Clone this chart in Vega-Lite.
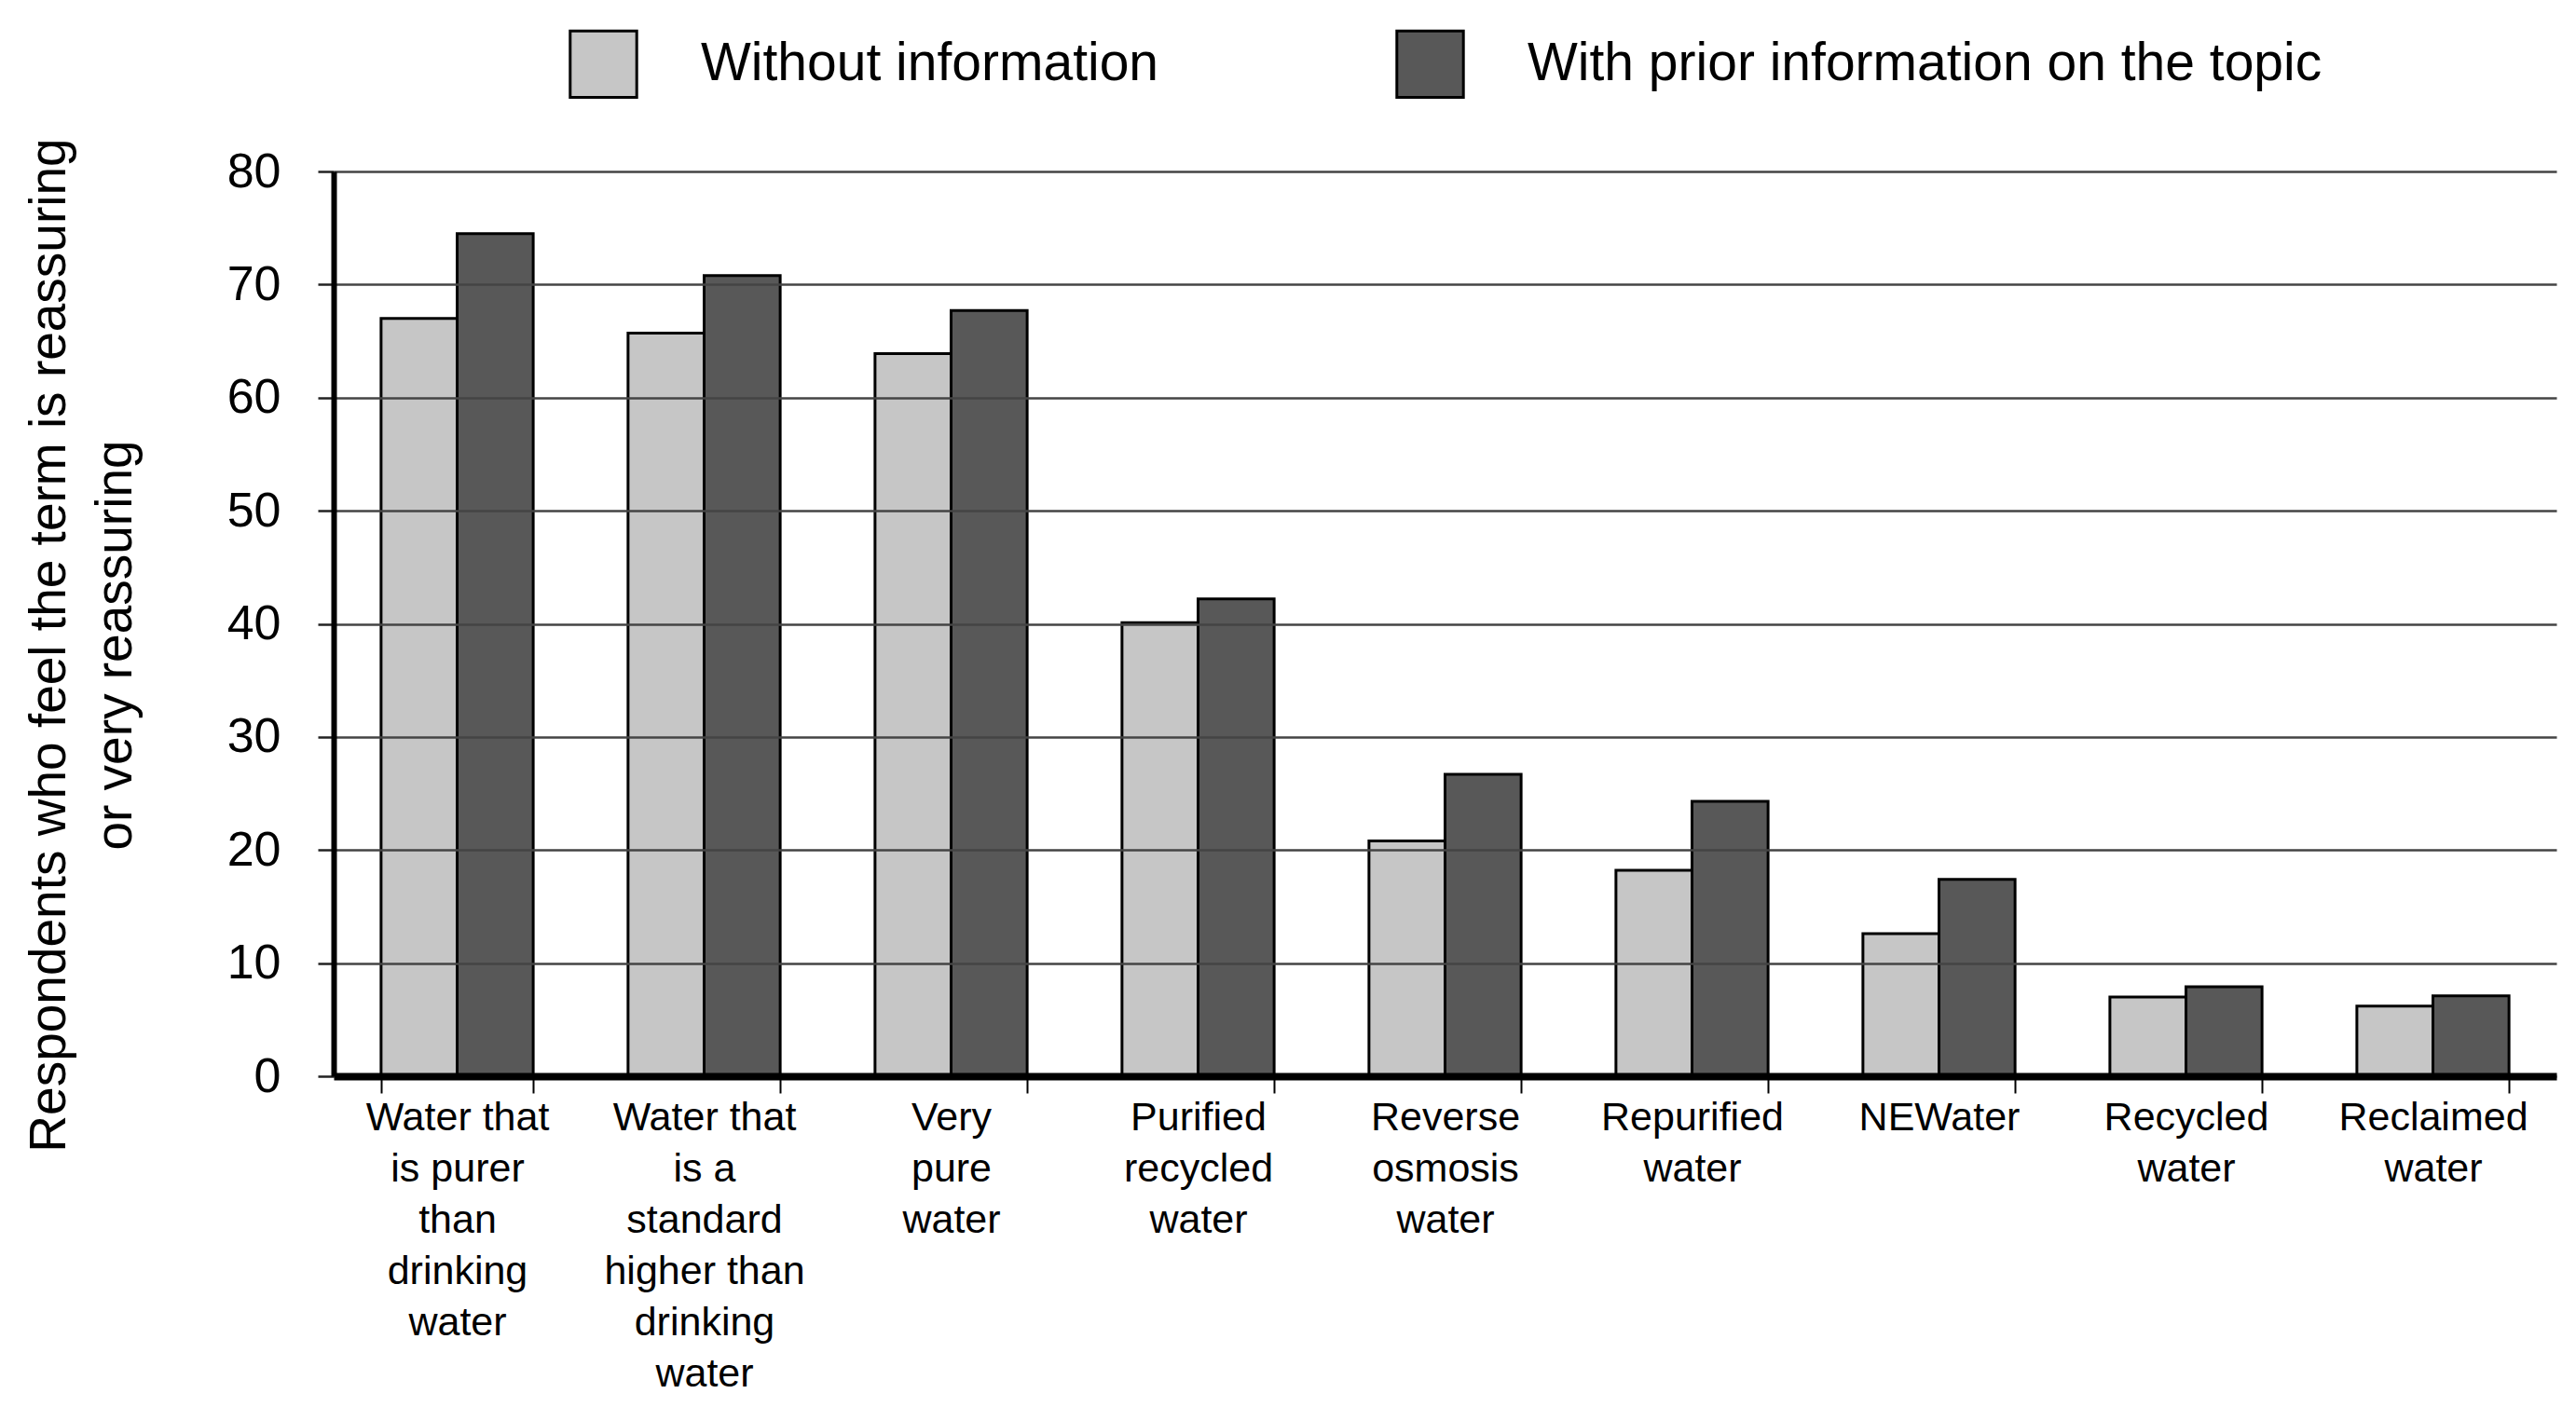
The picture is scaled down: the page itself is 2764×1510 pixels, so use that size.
{
  "$schema": "https://vega.github.io/schema/vega-lite/v6.json",
  "width": 2385,
  "height": 971,
  "autosize": {"type": "none"},
  "padding": {"left": 358, "top": 184, "right": 21, "bottom": 355},
  "background": "white",
  "config": {"view": {"stroke": null}, "font": "Liberation Sans"},
  "data": {
    "values": [
      {"term": "Water that\nis purer\nthan\ndrinking\nwater", "condition": "Without information", "percent": 67.0},
      {"term": "Water that\nis purer\nthan\ndrinking\nwater", "condition": "With prior information on the topic", "percent": 74.5},
      {"term": "Water that\nis a\nstandard\nhigher than\ndrinking\nwater", "condition": "Without information", "percent": 65.7},
      {"term": "Water that\nis a\nstandard\nhigher than\ndrinking\nwater", "condition": "With prior information on the topic", "percent": 70.8},
      {"term": "Very\npure\nwater", "condition": "Without information", "percent": 63.9},
      {"term": "Very\npure\nwater", "condition": "With prior information on the topic", "percent": 67.7},
      {"term": "Purified\nrecycled\nwater", "condition": "Without information", "percent": 40.1},
      {"term": "Purified\nrecycled\nwater", "condition": "With prior information on the topic", "percent": 42.2},
      {"term": "Reverse\nosmosis\nwater", "condition": "Without information", "percent": 20.8},
      {"term": "Reverse\nosmosis\nwater", "condition": "With prior information on the topic", "percent": 26.7},
      {"term": "Repurified\nwater", "condition": "Without information", "percent": 18.2},
      {"term": "Repurified\nwater", "condition": "With prior information on the topic", "percent": 24.3},
      {"term": "NEWater", "condition": "Without information", "percent": 12.6},
      {"term": "NEWater", "condition": "With prior information on the topic", "percent": 17.4},
      {"term": "Recycled\nwater", "condition": "Without information", "percent": 7.0},
      {"term": "Recycled\nwater", "condition": "With prior information on the topic", "percent": 7.9},
      {"term": "Reclaimed\nwater", "condition": "Without information", "percent": 6.2},
      {"term": "Reclaimed\nwater", "condition": "With prior information on the topic", "percent": 7.1}
    ]
  },
  "mark": {"type": "bar", "stroke": "black", "strokeWidth": 3},
  "encoding": {
    "x": {
      "field": "term",
      "type": "nominal",
      "sort": null,
      "scale": {"paddingInner": 0.384, "paddingOuter": 0.192},
      "axis": {
        "title": null,
        "labelAngle": 0,
        "labelExpr": "split(datum.label, '\\n')",
        "labelFontSize": 43,
        "labelLineHeight": 55,
        "labelColor": "black",
        "labelLimit": 1000,
        "labelOverlap": false,
        "labelPadding": 5,
        "tickBand": "extent",
        "tickSize": 18,
        "tickColor": "black",
        "tickWidth": 2,
        "domainColor": "black",
        "domainWidth": 8,
        "zindex": 1
      }
    },
    "xOffset": {
      "field": "condition",
      "sort": ["Without information", "With prior information on the topic"]
    },
    "y": {
      "field": "percent",
      "type": "quantitative",
      "scale": {"domain": [0, 80], "nice": false},
      "axis": {
        "title": ["Respondents who feel the term is reassuring", "or very reassuring"],
        "titleFontSize": 55,
        "titleFontWeight": "normal",
        "titleColor": "black",
        "titleLineHeight": 71,
        "titleAngle": 270,
        "titleAlign": "center",
        "titleBaseline": "top",
        "titleX": -332,
        "titleY": 508,
        "values": [0, 10, 20, 30, 40, 50, 60, 70, 80],
        "labelFontSize": 52,
        "labelColor": "black",
        "labelPadding": 40,
        "tickSize": 17,
        "tickColor": "#222222",
        "tickWidth": 2.5,
        "grid": true,
        "gridColor": "#444444",
        "gridWidth": 2.5,
        "gridOpacity": 1,
        "domainColor": "black",
        "domainWidth": 6,
        "zindex": 1
      }
    },
    "color": {
      "field": "condition",
      "type": "nominal",
      "scale": {
        "domain": ["Without information", "With prior information on the topic"],
        "range": ["#c6c6c6", "#585858"]
      },
      "legend": {
        "orient": "none",
        "legendX": 252,
        "legendY": -153,
        "direction": "horizontal",
        "title": null,
        "symbolType": "square",
        "symbolSize": 5100,
        "symbolStrokeColor": "black",
        "symbolStrokeWidth": 3,
        "symbolOpacity": 1,
        "labelFontSize": 57,
        "labelColor": "black",
        "labelOffset": 67,
        "labelLimit": 1500,
        "columnPadding": 248,
        "padding": 0
      }
    }
  }
}
